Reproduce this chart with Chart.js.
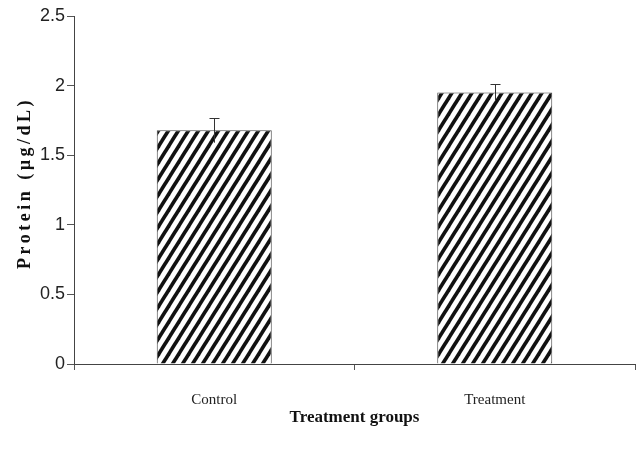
<!DOCTYPE html>
<html>
<head>
<meta charset="utf-8">
<script src="https://cdn.jsdelivr.net/npm/chart.js@4"></script>
<style>
    html, body { margin: 0; padding: 0; background: #fff; }
    #wrap { width: 641px; height: 463px; }
</style>
</head>
<body>
<div id="wrap"><canvas id="proteinChart"></canvas></div>
<script>
// data
const groups = ['Control', 'Treatment'];
const protein = [1.68, 1.95];
const proteinErr = [0.09, 0.06];
const yMin = 0, yMax = 2.5, yStep = 0.5;

// diagonal hatch fill (///), lines run past the tile edges so no seams
function makeHatch() {
    const w = 10, h = 16;
    const c = document.createElement('canvas');
    c.width = w;
    c.height = h;
    const g = c.getContext('2d');
    g.fillStyle = '#fff';
    g.fillRect(0, 0, w, h);
    g.strokeStyle = '#111';
    g.lineWidth = 3.6;
    for (let k = -2; k <= 2; k++) {
        g.beginPath();
        g.moveTo(k * w - w, 2 * h);
        g.lineTo(k * w + 2 * w, -h);
        g.stroke();
    }
    return g.createPattern(c, 'repeat');
}

const errorBars = {
    id: 'errorBars',
    afterDatasetsDraw(chart) {
        const ctx = chart.ctx;
        const y = chart.scales.y;
        const meta = chart.getDatasetMeta(0);
        ctx.save();
        ctx.strokeStyle = '#333';
        ctx.lineWidth = 1;
        meta.data.forEach((bar, i) => {
            const x = Math.round(bar.x) + 0.5;
            const top = Math.round(y.getPixelForValue(protein[i] + proteinErr[i])) + 0.5;
            const bot = y.getPixelForValue(protein[i] - proteinErr[i]);
            ctx.beginPath();
            ctx.moveTo(x, bot);
            ctx.lineTo(x, top);
            ctx.moveTo(x - 5, top);
            ctx.lineTo(x + 5, top);
            ctx.stroke();
        });
        ctx.restore();
    }
};

// y title is drawn by hand so it can be letter-spaced like the original
const yTitle = {
    id: 'yTitle',
    afterDraw(chart) {
        const ctx = chart.ctx;
        ctx.save();
        ctx.translate(25, 183);
        ctx.rotate(-Math.PI / 2);
        ctx.font = 'bold 18px "Liberation Serif", "DejaVu Serif", serif';
        ctx.letterSpacing = '3.5px';
        ctx.fillStyle = '#111';
        ctx.textAlign = 'center';
        ctx.textBaseline = 'middle';
        ctx.fillText('Protein (\u00b5g/dL)', 0, 0);
        ctx.restore();
    }
};

const ctx = document.getElementById('proteinChart').getContext('2d');
new Chart(ctx, {
    type: 'bar',
    data: {
        labels: groups,
        datasets: [{
            data: protein,
            backgroundColor: makeHatch(),
            borderColor: '#444',
            borderWidth: 1,
            barPercentage: 0.41,
            categoryPercentage: 1
        }]
    },
    options: {
        responsive: true,
        maintainAspectRatio: false,
        animation: false,
        layout: { padding: { top: 16, right: 6, left: 0, bottom: 0 } },
        plugins: {
            legend: { display: false },
            tooltip: { enabled: false }
        },
        scales: {
            x: {
                afterFit: (s) => { s.height = 99; },
                grid: { drawOnChartArea: false, tickLength: 6, color: '#555', offset: true },
                border: { color: '#444', width: 1 },
                ticks: {
                    color: '#222',
                    padding: 21,
                    font: { family: '"Liberation Serif", serif', size: 15 }
                },
                title: {
                    display: true,
                    text: 'Treatment groups',
                    color: '#111',
                    padding: { top: 0, bottom: 35 },
                    font: { family: '"Liberation Serif", serif', size: 17, weight: 'bold' }
                }
            },
            y: {
                min: yMin,
                max: yMax,
                afterFit: (s) => { s.width = 74; },
                grid: { drawOnChartArea: false, tickLength: 7, color: '#555' },
                border: { color: '#444', width: 1 },
                ticks: {
                    stepSize: yStep,
                    color: '#222',
                    padding: 2,
                    callback: (v) => String(v),
                    font: { family: '"Liberation Sans Narrow", "Liberation Sans", sans-serif', size: 18 }
                }
            }
        }
    },
    plugins: [errorBars, yTitle]
});
</script>
</body>
</html>
